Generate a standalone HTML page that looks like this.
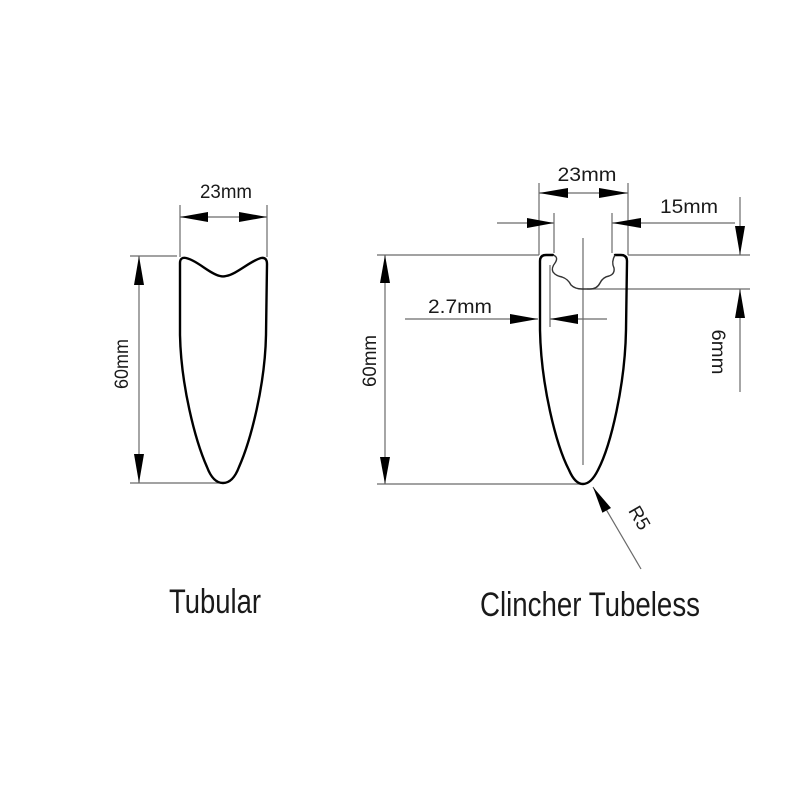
<!DOCTYPE html>
<html>
<head>
<meta charset="utf-8">
<style>
  html, body { margin: 0; padding: 0; background: #fff; }
  svg { display: block; }
  .dim { stroke: #6a6a6a; stroke-width: 1.2; fill: none; }
  .prof { stroke: #000; stroke-width: 2.4; fill: none; stroke-linejoin: round; stroke-linecap: round; }
  .seat { stroke: #333; stroke-width: 1.4; fill: none; stroke-linejoin: round; }
  .ah { fill: #000; }
  .t { font-family: "Liberation Sans", "DejaVu Sans", sans-serif; fill: #1a1a1a; }
</style>
</head>
<body>
<svg width="800" height="800" viewBox="0 0 800 800" xmlns="http://www.w3.org/2000/svg">
  <rect width="800" height="800" fill="#fff"/>

  <!-- ================= TUBULAR ================= -->
  <line class="dim" x1="180" y1="205" x2="180" y2="257"/>
  <line class="dim" x1="267" y1="205" x2="267" y2="257"/>
  <line class="dim" x1="180" y1="217" x2="267" y2="217"/>
  <polygon class="ah" points="180,217 208,212 208,222"/>
  <polygon class="ah" points="267,217 239,212 239,222"/>
  <text class="t" x="226" y="198" font-size="19" text-anchor="middle" textLength="52" lengthAdjust="spacingAndGlyphs">23mm</text>

  <line class="dim" x1="130" y1="256" x2="177" y2="256"/>
  <line class="dim" x1="130" y1="483" x2="222" y2="483"/>
  <line class="dim" x1="139" y1="256" x2="139" y2="483"/>
  <polygon class="ah" points="139,256 134,285 144,285"/>
  <polygon class="ah" points="139,483 134,454 144,454"/>
  <text class="t" transform="translate(128,364) rotate(-90)" x="0" y="0" font-size="19" text-anchor="middle" textLength="50" lengthAdjust="spacingAndGlyphs">60mm</text>

  <path class="prof" d="M 180,335 L 180,263 Q 180,257 186,258 C 198,261 210,274 220,276 Q 223,276.8 226,276 C 237,274 250,261 261,258 Q 267,257 267,264 L 266,335 C 265,385 251,440 239,467 Q 233,483 223,483 Q 213,483 207,467 C 195,440 181,385 180,335 Z"/>

  <text class="t" x="169" y="613" font-size="34" textLength="92" lengthAdjust="spacingAndGlyphs">Tubular</text>

  <!-- ================= CLINCHER ================= -->
  <line class="dim" x1="539" y1="183" x2="539" y2="255"/>
  <line class="dim" x1="628" y1="183" x2="628" y2="255"/>
  <line class="dim" x1="539" y1="193" x2="628" y2="193"/>
  <polygon class="ah" points="539,193 568,188 568,198"/>
  <polygon class="ah" points="628,193 599,188 599,198"/>
  <text class="t" x="587" y="181" font-size="19" text-anchor="middle" textLength="59" lengthAdjust="spacingAndGlyphs">23mm</text>

  <line class="dim" x1="554" y1="213" x2="554" y2="253"/>
  <line class="dim" x1="612" y1="213" x2="612" y2="253"/>
  <line class="dim" x1="497" y1="223" x2="554" y2="223"/>
  <line class="dim" x1="612" y1="223" x2="735" y2="223"/>
  <polygon class="ah" points="554,223 527,218 527,228"/>
  <polygon class="ah" points="612,223 641,218 641,228"/>
  <text class="t" x="689" y="213" font-size="19" text-anchor="middle" textLength="58" lengthAdjust="spacingAndGlyphs">15mm</text>

  <line class="dim" x1="377" y1="255" x2="539" y2="255"/>
  <line class="dim" x1="628" y1="255" x2="750" y2="255"/>
  <line class="dim" x1="587" y1="289" x2="750" y2="289"/>

  <line class="dim" x1="740" y1="197" x2="740" y2="255"/>
  <polygon class="ah" points="740,255 735,226 745,226"/>
  <line class="dim" x1="740" y1="289" x2="740" y2="392"/>
  <polygon class="ah" points="740,289 735,318 745,318"/>
  <text class="t" transform="translate(712,352) rotate(90)" x="0" y="0" font-size="19" text-anchor="middle" textLength="45" lengthAdjust="spacingAndGlyphs">6mm</text>

  <line class="dim" x1="550" y1="265" x2="550" y2="327"/>
  <line class="dim" x1="405" y1="319" x2="538" y2="319"/>
  <line class="dim" x1="550" y1="319" x2="607" y2="319"/>
  <polygon class="ah" points="538,319 510,314 510,324"/>
  <polygon class="ah" points="550,319 578,314 578,324"/>
  <text class="t" x="460" y="313" font-size="19" text-anchor="middle" textLength="64" lengthAdjust="spacingAndGlyphs">2.7mm</text>

  <line class="dim" x1="583" y1="238" x2="583" y2="465"/>

  <line class="dim" x1="377" y1="484" x2="583" y2="484"/>
  <line class="dim" x1="385" y1="255" x2="385" y2="484"/>
  <polygon class="ah" points="385,255 380,283 390,283"/>
  <polygon class="ah" points="385,484 380,457 390,457"/>
  <text class="t" transform="translate(376,361) rotate(-90)" x="0" y="0" font-size="19" text-anchor="middle" textLength="52" lengthAdjust="spacingAndGlyphs">60mm</text>

  <path class="prof" d="M 553,255 L 546,255 Q 540,255 540,261 L 540,330 C 541,385 556,445 569,470 Q 575,484 583,484 Q 591,484 598,470 C 611,445 625,385 626,330 L 627,261 Q 627,255 621,255 L 615,255"/>
  <path class="seat" d="M 553,255 Q 559,257 555,263 Q 551,268 553,272 Q 556,276 562,277 Q 568,279 571,285 Q 575,289 582,289 L 590,289 Q 597,289 600,283 Q 603,277 609,276 Q 615,274 614,268 Q 611,262 615,255"/>

  <line class="dim" x1="593" y1="487" x2="641" y2="569"/>
  <polygon class="ah" points="593,487 611,508 602.4,512.8"/>
  <text class="t" transform="translate(634,521) rotate(60)" x="0" y="0" font-size="19" text-anchor="middle">R5</text>

  <text class="t" x="480" y="616" font-size="34" textLength="220" lengthAdjust="spacingAndGlyphs">Clincher Tubeless</text>
</svg>
</body>
</html>
